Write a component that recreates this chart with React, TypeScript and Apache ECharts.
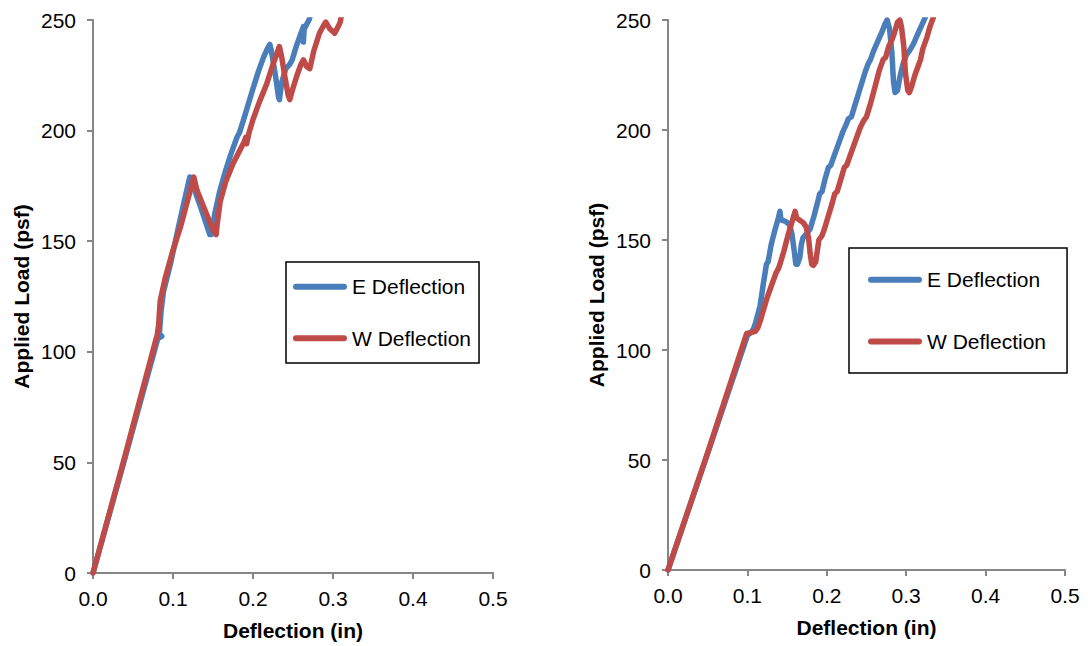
import React, { useEffect, useRef } from "react";
import * as echarts from "echarts";

// Load–deflection readings, [deflection (in), applied load (psf)]
const leftEast: [number, number][] = [
  [0, 0], [0.04, 52], [0.081, 106], [0.086, 107], [0.083, 108], [0.085, 118], [0.088, 127],
  [0.097, 140], [0.106, 155], [0.114, 168], [0.121, 179], [0.124, 176], [0.135, 165],
  [0.146, 153], [0.148, 153], [0.152, 162], [0.158, 172], [0.165, 181], [0.172, 189],
  [0.18, 197], [0.183, 199], [0.19, 207], [0.2, 219], [0.207, 227], [0.213, 233],
  [0.218, 237], [0.221, 239], [0.223, 236], [0.228, 225], [0.232, 215], [0.233, 214],
  [0.236, 222], [0.241, 228], [0.246, 230], [0.249, 232], [0.254, 238], [0.26, 244],
  [0.263, 247], [0.263, 240], [0.264, 246], [0.27, 250], [0.275, 256],
];
const leftWest: [number, number][] = [
  [0, 0], [0.04, 53], [0.079, 106], [0.08, 107], [0.082, 112], [0.084, 123], [0.09, 133],
  [0.1, 146], [0.109, 156], [0.118, 168], [0.126, 179], [0.13, 173], [0.14, 164],
  [0.15, 155], [0.154, 153], [0.155, 157], [0.159, 168], [0.166, 177], [0.175, 185],
  [0.182, 190], [0.189, 195], [0.191, 197], [0.192, 194], [0.195, 199], [0.2, 205],
  [0.208, 213], [0.217, 221], [0.225, 230], [0.231, 236], [0.233, 238], [0.236, 233],
  [0.24, 224], [0.244, 216], [0.246, 214], [0.249, 218], [0.255, 225], [0.26, 230],
  [0.263, 232], [0.267, 229], [0.271, 228], [0.276, 236], [0.283, 244], [0.289, 248],
  [0.291, 249], [0.296, 246], [0.302, 244], [0.305, 246], [0.309, 249], [0.312, 255],
];
const rightEast: [number, number][] = [
  [0, 0], [0.05, 53], [0.1, 106.5], [0.101, 107], [0.105, 108], [0.108, 110], [0.11, 112],
  [0.113, 116], [0.116, 120], [0.12, 130], [0.124, 139], [0.126, 140], [0.13, 148],
  [0.135, 155], [0.139, 160], [0.141, 163], [0.142, 160], [0.143, 159], [0.148, 158.5],
  [0.153, 157], [0.156, 153], [0.159, 145], [0.161, 139], [0.163, 139], [0.166, 142],
  [0.168, 148], [0.17, 151], [0.175, 153], [0.179, 155], [0.184, 161], [0.189, 168],
  [0.191, 171], [0.194, 172], [0.198, 178], [0.202, 183], [0.205, 184], [0.209, 188],
  [0.214, 193], [0.22, 199], [0.225, 203], [0.227, 205], [0.231, 206], [0.236, 212],
  [0.242, 219], [0.248, 226], [0.252, 230], [0.255, 232], [0.259, 236], [0.265, 241],
  [0.27, 245], [0.273, 248], [0.276, 250], [0.279, 246], [0.282, 235], [0.284, 222],
  [0.286, 217], [0.289, 218], [0.292, 224], [0.296, 230], [0.3, 234], [0.304, 236],
  [0.309, 239], [0.315, 244], [0.32, 248], [0.325, 252],
];
const rightWest: [number, number][] = [
  [0, 0], [0.05, 53.5], [0.099, 107.5], [0.105, 108], [0.11, 108.5], [0.113, 110],
  [0.116, 113], [0.12, 118], [0.125, 124], [0.131, 130], [0.136, 135], [0.139, 137],
  [0.141, 139], [0.146, 145], [0.151, 152], [0.156, 158], [0.16, 163], [0.162, 160],
  [0.166, 159], [0.17, 158], [0.174, 156], [0.177, 151], [0.179, 144], [0.181, 139],
  [0.183, 138.5], [0.186, 140], [0.188, 145], [0.19, 150], [0.194, 152], [0.197, 155],
  [0.202, 161], [0.207, 167], [0.21, 171], [0.213, 172], [0.218, 178], [0.222, 183],
  [0.225, 184], [0.23, 189], [0.236, 195], [0.242, 201], [0.246, 204], [0.25, 206],
  [0.255, 212], [0.261, 220], [0.266, 227], [0.271, 232], [0.274, 233], [0.278, 238],
  [0.282, 241], [0.285, 244], [0.289, 249], [0.292, 250], [0.294, 247], [0.297, 238],
  [0.299, 226], [0.302, 218], [0.304, 217], [0.307, 220], [0.311, 225], [0.315, 229],
  [0.318, 232], [0.321, 237], [0.326, 242], [0.33, 247], [0.334, 251],
];

const seriesNames = ["E Deflection", "W Deflection"];
const xTitle = "Deflection (in)";
const yTitle = "Applied Load (psf)";

const BLUE = "#4a7ebb";
const RED = "#be4b48";
const AXIS_GRAY = "#868686";
const FONT = "'Liberation Sans', Arial, sans-serif";
const FS = 21;
const PILL = "path://M3,0 L51,0 A3,3 0 0 1 51,6 L3,6 A3,3 0 0 1 3,0 Z";

function xAxis(gridIndex: number) {
  return {
    type: "value",
    gridIndex,
    min: 0,
    max: 0.5,
    interval: 0.1,
    name: xTitle,
    nameLocation: "middle",
    nameGap: 47,
    nameTextStyle: { fontFamily: FONT, fontSize: FS, fontWeight: "bold", color: "#000" },
    axisLine: { lineStyle: { color: AXIS_GRAY, width: 2 } },
    axisTick: { show: true, length: 6, lineStyle: { color: AXIS_GRAY, width: 2 } },
    axisLabel: {
      margin: 15,
      fontFamily: FONT,
      fontSize: FS,
      color: "#000",
      formatter: (v: number) => v.toFixed(1),
    },
    splitLine: { show: false },
  };
}

function yAxis(gridIndex: number) {
  return {
    type: "value",
    gridIndex,
    min: 0,
    max: 250,
    interval: 50,
    name: yTitle,
    nameLocation: "middle",
    nameRotate: 90,
    nameGap: 61,
    nameTextStyle: { fontFamily: FONT, fontSize: FS, fontWeight: "bold", color: "#000" },
    axisLine: { show: true, lineStyle: { color: AXIS_GRAY, width: 2 } },
    axisTick: { show: true, length: 6, lineStyle: { color: AXIS_GRAY, width: 2 } },
    axisLabel: { margin: 17, fontFamily: FONT, fontSize: FS, color: "#000" },
    splitLine: { show: false },
  };
}

function line(name: string, color: string, idx: number, data: [number, number][]) {
  return {
    type: "line",
    name,
    xAxisIndex: idx,
    yAxisIndex: idx,
    data,
    showSymbol: false,
    symbol: "none",
    color,
    lineStyle: { color, width: 5.5, cap: "round", join: "round" },
    clip: true,
  };
}

export default function App() {
  const ref = useRef<HTMLDivElement>(null);

  useEffect(() => {
    if (!ref.current) return;
    const chart = echarts.init(ref.current, undefined, { renderer: "svg" });
    chart.setOption({
      animation: false,
      backgroundColor: "#fff",
      grid: [
        { left: 93, right: 595, top: 20, bottom: 73 },
        { left: 668, right: 23, top: 20, bottom: 76 },
      ],
      xAxis: [xAxis(0), xAxis(1)],
      yAxis: [yAxis(0), yAxis(1)],
      legend: [
        {
          data: seriesNames,
          orient: "vertical",
          left: 286,
          top: 262,
          icon: PILL,
          itemWidth: 54,
          itemHeight: 6,
          itemGap: 30.6,
          padding: [14.2, 8, 14.2, 7],
          borderColor: "#000",
          borderWidth: 1.5,
          textStyle: { fontFamily: FONT, fontSize: FS, color: "#000" },
          selectedMode: false,
        },
        {
          data: seriesNames,
          orient: "vertical",
          left: 849,
          top: 248,
          icon: PILL,
          itemWidth: 54,
          itemHeight: 6,
          itemGap: 40.7,
          padding: [21.2, 21, 21.2, 19],
          borderColor: "#000",
          borderWidth: 1.5,
          textStyle: { fontFamily: FONT, fontSize: FS, color: "#000" },
          selectedMode: false,
        },
      ],
      series: [
        line(seriesNames[0], BLUE, 0, leftEast),
        line(seriesNames[1], RED, 0, leftWest),
        line(seriesNames[0], BLUE, 1, rightEast),
        line(seriesNames[1], RED, 1, rightWest),
      ],
    });
    return () => chart.dispose();
  }, []);

  return (
    <div
      ref={ref}
      style={{ position: "fixed", left: 0, top: 0, width: 1088, height: 646, background: "#fff" }}
    />
  );
}
